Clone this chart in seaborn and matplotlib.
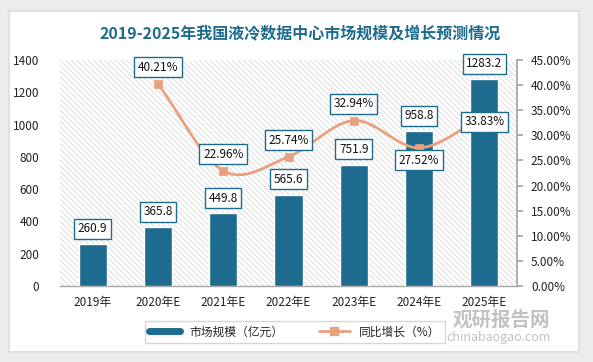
import numpy as np
import pandas as pd
import matplotlib
matplotlib.use("Agg")
import matplotlib.pyplot as plt
import seaborn as sns
from matplotlib.patches import Rectangle
from matplotlib.lines import Line2D
from matplotlib.ticker import FuncFormatter, MultipleLocator

years = ["2019年", "2020年E", "2021年E", "2022年E", "2023年E", "2024年E", "2025年E"]
market = [260.9, 365.8, 449.8, 565.6, 751.9, 958.8, 1283.2]
growth_years = ["2020年E", "2021年E", "2022年E", "2023年E", "2024年E", "2025年E"]
growth = [40.21, 22.96, 25.74, 32.94, 27.52, 33.83]

title = "2019-2025年我国液冷数据中心市场规模及增长预测情况"
bar_label = "市场规模（亿元）"
line_label = "同比增长（%）"

BLUE = "#1d6b8f"
ORANGE = "#e9a07f"

sns.set_theme(style="white")
plt.rcParams['font.family'] = ['Noto Sans CJK SC', 'DejaVu Sans']
plt.rcParams['hatch.color'] = '#d9d9d9'
plt.rcParams['hatch.linewidth'] = 0.6

W, H = 593, 362
fig = plt.figure(figsize=(W / 100, H / 100), dpi=100)
fig.patch.set_facecolor('#ececec')

# card with soft shadow
for i, a in enumerate([0.04, 0.05, 0.06]):
    d = 3 - i
    fig.patches.append(Rectangle(((10 - d) / W, 1 - (351 + d) / H), (568 + 2 * d) / W, (339 + 2 * d) / H,
                                 transform=fig.transFigure, facecolor='#999999', alpha=a,
                                 edgecolor='none', zorder=-3))
fig.patches.append(Rectangle((10 / W, 1 - 351 / H), 568 / W, 339 / H, transform=fig.transFigure,
                             facecolor='white', edgecolor='none', zorder=-2))

ax = fig.add_axes([60 / W, 1 - 286 / H, 457 / W, 226 / H])
ax.set_facecolor('none')
ax.add_patch(Rectangle((0, 0), 1, 1, transform=ax.transAxes, facecolor='white',
                       hatch='\\\\\\\\\\\\', edgecolor='#d9d9d9', linewidth=0, zorder=0))

df = pd.DataFrame({"year": years, "market": market})
sns.barplot(data=df, x="year", y="market", color=BLUE, width=0.43, ax=ax, zorder=3,
            edgecolor='white', linewidth=1.0, saturation=1)
ax.set_xlim(-0.5, 6.5)
ax.set_ylim(0, 1400)
ax.yaxis.set_major_locator(MultipleLocator(200))
ax.set_xlabel("")
ax.set_ylabel("")
for s in ["left", "top", "right"]:
    ax.spines[s].set_visible(False)
ax.spines["bottom"].set_color('#a6a6a6')
ax.spines["bottom"].set_linewidth(1)
ax.tick_params(axis='x', length=0, labelsize=8.5, colors='#222222', pad=7)
ax.tick_params(axis='y', length=0, labelsize=8.5, colors='#222222', pad=15)

box = dict(boxstyle='square,pad=0.3', facecolor='white', edgecolor=BLUE, linewidth=1)
for i, v in enumerate(market):
    ax.annotate(f"{v:.1f}", (i, v), xytext=(0, 11), textcoords='offset points',
                ha='center', va='center', fontsize=8.5, color='#111111', bbox=box, zorder=6)

ax2 = ax.twinx()
ax2.set_ylim(0, 45)
ax2.yaxis.set_major_locator(MultipleLocator(5))
ax2.yaxis.set_major_formatter(FuncFormatter(lambda v, p: f"{v:.2f}%"))
for s in ["left", "top", "bottom"]:
    ax2.spines[s].set_visible(False)
ax2.spines["right"].set_color('#a6a6a6')
ax2.tick_params(axis='y', length=4, direction='out', color='#a6a6a6', labelcolor='#222222',
                labelsize=8.5, pad=6)

gx = np.array([years.index(g) for g in growth_years], dtype=float)
gy = np.array(growth, dtype=float)

# Catmull-Rom smoothing of the drawn curve (rendering only)
def smooth(x, y, n=30):
    px = np.concatenate([[2 * x[0] - x[1]], x, [2 * x[-1] - x[-2]]])
    py = np.concatenate([[2 * y[0] - y[1]], y, [2 * y[-1] - y[-2]]])
    xs, ys = [], []
    t = np.linspace(0, 1, n)
    for i in range(1, len(px) - 2):
        p0, p1, p2, p3 = [np.array([px[j], py[j]]) for j in range(i - 1, i + 3)]
        c1 = p1 + (p2 - p0) / 6
        c2 = p2 - (p3 - p1) / 6
        pts = ((1 - t) ** 3)[:, None] * p1 + (3 * (1 - t) ** 2 * t)[:, None] * c1 + \
              (3 * (1 - t) * t ** 2)[:, None] * c2 + (t ** 3)[:, None] * p2
        xs.extend(pts[:, 0]); ys.extend(pts[:, 1])
    return np.array(xs), np.array(ys)

sx, sy = smooth(gx, gy)
ax2.plot(sx, sy, color=ORANGE, lw=2, zorder=4)
sns.scatterplot(x=gx, y=gy, marker='s', s=40, color=ORANGE, edgecolor=ORANGE, ax=ax2, zorder=5)
ax2.set_xlim(-0.5, 6.5)

offs = [(0, 12), (0, 12), (0, 12), (0, 12), (0, -9), (0, -4)]
for (xx, yy, o) in zip(gx, gy, offs):
    ax2.annotate(f"{yy:.2f}%", (xx, yy), xytext=o, textcoords='offset points',
                 ha='center', va='center', fontsize=8.5, color='#111111', bbox=box, zorder=7)

fig.text(300 / W, 1 - 33 / H, title, ha='center', va='center', fontsize=11.5,
         fontweight='bold', color='#1d6b8f')

# watermark
fig.text(501 / W, 1 - 320 / H, "观研报告网", ha='center', va='center', fontsize=14,
         fontweight='bold', color='#9a9a9a', alpha=0.6, zorder=10)
fig.text(499 / W, 1 - 337 / H, "chinabaogao.com", ha='center', va='center', fontsize=9,
         color='#9a9a9a', alpha=0.6, zorder=10)

handles = [Line2D([0], [0], color=BLUE, lw=5),
           Line2D([0], [0], color=ORANGE, lw=2, marker='s', markersize=6)]
leg = fig.legend(handles, [bar_label, line_label], loc='center', bbox_to_anchor=(295 / W, 1 - 332 / H),
                 ncol=2, frameon=True, fontsize=8.5, handlelength=2.6, columnspacing=3,
                 borderpad=0.4, fancybox=False)
leg.get_frame().set_edgecolor('#cccccc')
leg.get_frame().set_linewidth(1)
leg.set_zorder(5)

fig.savefig("out.png", dpi=100, facecolor=fig.get_facecolor())
